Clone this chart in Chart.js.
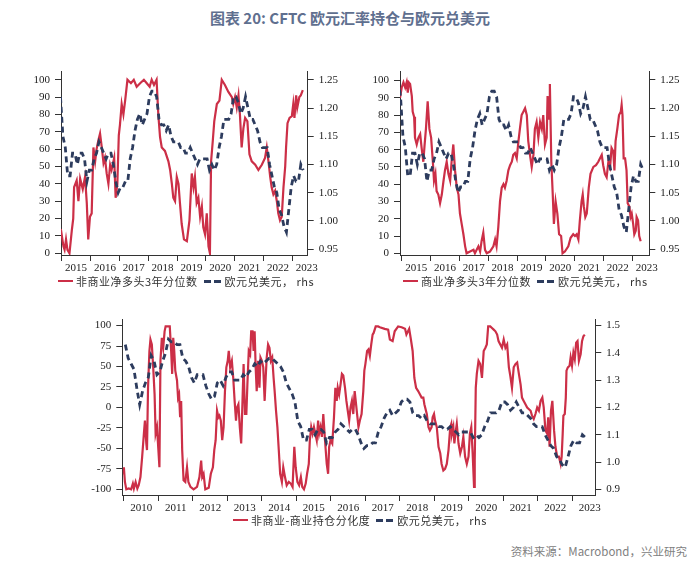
<!DOCTYPE html>
<html>
<head>
<meta charset="utf-8">
<script src="https://cdn.jsdelivr.net/npm/chart.js@4/dist/chart.umd.min.js"></script>
<style>
body{margin:0;background:#fff;width:700px;height:568px;position:relative;overflow:hidden;font-family:"Noto Sans CJK SC",sans-serif;}
.title{position:absolute;left:0;width:700px;top:7px;text-align:center;font-size:15px;font-weight:700;color:#5f6f8f;line-height:22px;}
canvas{position:absolute;}
.legend{position:absolute;display:flex;align-items:center;font-size:11px;letter-spacing:0.5px;color:#333;white-space:nowrap;line-height:14px;}
.legend .red{width:15px;height:2.5px;background:#cc2f47;margin-right:3px;}
.legend .dash{width:17px;height:3px;margin:0 4px 0 6px;background:repeating-linear-gradient(90deg,#2d3c5e 0 7px,transparent 7px 10px);}
.src{position:absolute;right:13px;top:543px;font-size:11.5px;color:#808080;line-height:16px;}
</style>
</head>
<body>
<div class="title">图表 20: CFTC 欧元汇率持仓与欧元兑美元</div>

<canvas id="chartNC" width="350" height="215" style="left:0;top:60px"></canvas>
<canvas id="chartC" width="350" height="215" style="left:340px;top:60px"></canvas>
<canvas id="chartDiff" width="600" height="207" style="left:60px;top:308px"></canvas>

<div class="legend" style="left:58px;top:274px"><span class="red"></span><span>非商业净多头3年分位数</span><span class="dash"></span><span>欧元兑美元， rhs</span></div>
<div class="legend" style="left:403px;top:274px"><span class="red"></span><span>商业净多头3年分位数</span><span class="dash"></span><span>欧元兑美元， rhs</span></div>
<div class="legend" style="left:233px;top:513px"><span class="red"></span><span>非商业-商业持仓分化度</span><span class="dash"></span><span>欧元兑美元， rhs</span></div>

<div class="src">资料来源：Macrobond，兴业研究</div>

<script>
// ============================================================
// Data
// ============================================================
// EUR/USD, monthly, from Jan 2010
var eurusdStartYear = 2010;
var eurusd = [
	1.43,1.38,1.36,1.34,1.27,1.21,1.26,1.29,1.31,1.39,1.37,1.32,
	1.33,1.37,1.40,1.45,1.44,1.44,1.43,1.43,1.38,1.37,1.35,1.31,
	1.29,1.32,1.32,1.32,1.28,1.25,1.23,1.24,1.29,1.30,1.28,1.31,
	1.33,1.33,1.30,1.30,1.30,1.32,1.31,1.33,1.34,1.36,1.35,1.37,
	1.36,1.37,1.38,1.38,1.37,1.36,1.35,1.33,1.29,1.27,1.25,1.22,
	1.15,1.13,1.08,1.08,1.12,1.12,1.10,1.12,1.12,1.11,1.07,1.09,
	1.09,1.11,1.12,1.14,1.13,1.12,1.11,1.12,1.12,1.10,1.07,1.05,
	1.06,1.06,1.07,1.07,1.11,1.13,1.16,1.18,1.19,1.17,1.18,1.19,
	1.22,1.23,1.23,1.22,1.18,1.17,1.17,1.16,1.17,1.15,1.14,1.14,
	1.14,1.13,1.13,1.12,1.12,1.13,1.12,1.11,1.10,1.11,1.11,1.11,
	1.11,1.09,1.10,1.09,1.10,1.13,1.15,1.18,1.18,1.18,1.19,1.22,
	1.22,1.21,1.19,1.20,1.22,1.20,1.18,1.18,1.17,1.16,1.14,1.13,
	1.13,1.13,1.10,1.08,1.06,1.05,1.02,1.01,0.99,0.98,1.02,1.06,
	1.08,1.07,1.07,1.10,1.09
];

// non-commercial net long, 3y percentile
var ncYears = [2014.97,2015.06,2015.10,2015.15,2015.20,2015.27,2015.35,2015.40,2015.43,2015.52,2015.58,2015.64,2015.73,2015.81,2015.87,2015.92,2015.98,
	2016.04,2016.10,2016.16,2016.21,2016.27,2016.33,2016.39,2016.45,2016.50,2016.56,2016.62,2016.68,2016.73,2016.82,2016.87,2016.93,2016.98,
	2017.02,2017.08,2017.14,2017.20,2017.28,2017.40,2017.50,2017.60,2017.72,2017.85,2017.95,2018.05,2018.12,2018.20,2018.29,2018.35,2018.41,2018.47,2018.58,2018.70,2018.76,2018.82,2018.87,2018.93,2018.99,
	2019.05,2019.10,2019.16,2019.24,2019.34,2019.43,2019.51,2019.57,2019.62,2019.68,2019.74,2019.80,2019.86,2019.91,2019.97,
	2020.03,2020.09,2020.14,2020.18,2020.24,2020.29,2020.38,2020.47,2020.55,2020.66,2020.78,2020.90,2020.95,
	2021.01,2021.07,2021.13,2021.18,2021.24,2021.30,2021.36,2021.44,2021.51,2021.59,2021.71,2021.82,2021.94,
	2022.05,2022.11,2022.17,2022.23,2022.28,2022.34,2022.40,2022.46,2022.51,2022.57,2022.63,2022.69,2022.75,2022.78,2022.83,2022.90,2022.98,
	2023.03,2023.07,2023.13,2023.17,2023.24,2023.29,2023.36];
var ncPct = [14,4,2,8,2,0,13,20,38,42,30,43,37,44,29,8,21,
	23,61,53,60,65,69,61,52,55,46,40,51,48,55,32,40,68,
	74,86,80,88,100,98,100,96,98,100,98,96,100,97,100,80,67,61,59,53,48,40,32,30,44,
	40,29,17,8,7,19,46,38,44,29,32,21,27,15,11,
	23,4,0,53,65,76,86,88,100,97,93,90,86,
	90,84,91,80,61,72,78,76,57,53,51,48,51,
	55,61,53,44,38,34,36,30,23,19,21,38,50,61,75,78,79,
	86,78,91,84,90,91,94];

// commercial net long, 3y percentile
var cYears = [2014.94,2015.00,2015.06,2015.12,2015.17,2015.21,2015.24,2015.29,2015.35,2015.38,2015.43,2015.46,2015.52,2015.58,2015.64,2015.69,2015.75,2015.79,2015.84,2015.90,2015.96,
	2016.02,2016.08,2016.12,2016.17,2016.21,2016.27,2016.33,2016.39,2016.45,2016.50,2016.56,2016.62,2016.68,2016.73,2016.79,2016.85,2016.91,2016.97,
	2017.02,2017.08,2017.14,2017.20,2017.25,2017.37,2017.49,2017.54,2017.66,2017.72,2017.77,2017.83,2017.89,2017.95,
	2018.06,2018.18,2018.24,2018.29,2018.35,2018.41,2018.47,2018.53,2018.58,2018.64,2018.70,2018.76,2018.82,2018.87,2018.93,2018.99,
	2019.05,2019.10,2019.16,2019.22,2019.28,2019.34,2019.39,2019.45,2019.51,2019.57,2019.62,2019.68,2019.74,2019.80,2019.86,2019.91,2019.97,
	2020.03,2020.06,2020.11,2020.14,2020.19,2020.24,2020.28,2020.34,2020.40,2020.46,2020.53,2020.58,2020.66,2020.78,2020.86,2020.95,
	2021.01,2021.07,2021.13,2021.18,2021.24,2021.28,2021.32,2021.37,2021.42,2021.49,2021.55,2021.65,2021.74,2021.82,2021.88,2021.94,2021.99,
	2022.05,2022.11,2022.17,2022.23,2022.28,2022.34,2022.38,2022.42,2022.48,2022.54,2022.60,2022.63,2022.66,2022.70,2022.75,2022.80,2022.84,2022.90,2022.94,2022.98,
	2023.03,2023.07,2023.12,2023.15,2023.20,2023.24,2023.29];
var cPct = [90,96,99,96,99,93,99,98,91,82,79,67,63,67,69,61,53,62,72,88,72,
	67,53,42,46,36,34,29,34,42,48,53,46,42,53,63,48,38,34,
	23,17,11,4,0,1,2,0,4,1,7,12,2,0,
	1,4,8,4,15,30,38,40,38,42,48,51,53,57,58,55,
	65,72,80,82,84,80,65,57,50,57,72,76,67,76,72,80,63,
	67,91,78,98,53,34,17,30,23,11,10,0,1,4,9,11,
	10,11,8,19,30,34,27,21,23,38,46,50,51,53,55,57,51,
	46,44,53,50,61,59,48,65,72,80,82,86,80,55,55,48,29,27,21,23,
	17,11,13,21,19,10,7];

// non-commercial minus commercial positioning divergence
var diffYears = [2009.98,2010.00,2010.03,2010.07,2010.14,2010.21,2010.26,2010.29,2010.34,2010.39,2010.43,2010.48,2010.53,2010.58,2010.61,2010.65,2010.67,2010.70,2010.74,2010.77,2010.81,2010.85,2010.89,2010.92,2010.96,
	2011.00,2011.03,2011.06,2011.10,2011.14,2011.18,2011.21,2011.27,2011.33,2011.37,2011.40,2011.43,2011.46,2011.49,2011.54,2011.57,2011.60,2011.63,2011.66,2011.69,2011.73,2011.78,2011.83,2011.87,2011.93,
	2012.02,2012.12,2012.19,2012.24,2012.27,2012.31,2012.36,2012.46,2012.52,2012.58,2012.62,2012.66,2012.70,2012.74,2012.77,2012.81,2012.85,2012.89,2012.93,2012.97,
	2013.01,2013.04,2013.08,2013.13,2013.17,2013.21,2013.25,2013.28,2013.32,2013.36,2013.40,2013.43,2013.47,2013.51,2013.55,2013.58,2013.62,2013.66,2013.69,2013.73,2013.76,2013.79,2013.82,2013.85,2013.89,2013.93,2013.96,
	2014.00,2014.04,2014.08,2014.11,2014.14,2014.18,2014.22,2014.26,2014.30,2014.34,2014.37,2014.41,2014.45,2014.49,2014.53,2014.58,2014.62,2014.67,2014.72,2014.78,2014.84,2014.89,2014.94,2014.98,
	2015.03,2015.08,2015.13,2015.17,2015.22,2015.27,2015.31,2015.36,2015.39,2015.43,2015.47,2015.51,2015.55,2015.59,2015.63,2015.66,2015.70,2015.74,2015.78,2015.83,2015.88,2015.92,2015.95,2015.99,
	2016.04,2016.09,2016.13,2016.17,2016.20,2016.24,2016.28,2016.32,2016.36,2016.41,2016.45,2016.49,2016.53,2016.57,2016.61,2016.65,2016.69,2016.72,2016.76,2016.80,2016.84,2016.89,2016.94,2016.97,
	2017.00,2017.05,2017.09,2017.13,2017.17,2017.21,2017.24,2017.30,2017.37,2017.42,2017.56,2017.66,2017.71,2017.79,2017.85,2017.95,
	2018.05,2018.15,2018.19,2018.27,2018.32,2018.37,2018.42,2018.47,2018.53,2018.58,2018.63,2018.68,2018.71,2018.78,2018.83,2018.87,2018.92,2018.95,2018.99,
	2019.02,2019.07,2019.12,2019.17,2019.21,2019.26,2019.31,2019.36,2019.41,2019.46,2019.49,2019.51,2019.55,2019.58,2019.61,2019.65,2019.70,2019.75,2019.80,2019.84,2019.89,2019.94,2019.99,
	2020.03,2020.07,2020.11,2020.15,2020.17,2020.20,2020.23,2020.28,2020.33,2020.38,2020.43,2020.48,2020.52,2020.56,2020.62,2020.67,2020.72,2020.77,2020.82,2020.86,2020.91,2020.96,
	2021.01,2021.06,2021.11,2021.16,2021.20,2021.25,2021.30,2021.35,2021.40,2021.45,2021.50,2021.54,2021.59,2021.64,2021.69,2021.79,2021.83,2021.88,2021.93,2021.98,
	2022.03,2022.08,2022.13,2022.17,2022.22,2022.27,2022.30,2022.34,2022.38,2022.42,2022.47,2022.51,2022.56,2022.61,2022.66,2022.69,2022.72,2022.74,2022.78,2022.81,2022.83,2022.87,2022.92,2022.95,2022.99,
	2023.03,2023.07,2023.11,2023.15,2023.19,2023.24,2023.28,2023.32,2023.36];
var diffVal = [-81,-73,-91,-100,-99,-100,-93,-99,-91,-99,-95,-85,-60,-32,-16,-44,-52,24,69,83,77,49,16,-32,-24,
	-52,-73,57,85,73,93,99,99,99,69,41,85,69,45,33,12,16,-12,8,-52,-89,-91,-73,-91,-97,
	-100,-97,-85,-65,-85,-81,-100,-98,-81,-73,-52,-40,-4,-12,-10,-16,-40,-24,20,49,
	57,69,49,57,36,8,-16,0,4,-24,-44,-4,53,-8,-8,28,69,65,93,93,69,93,49,20,57,24,61,
	57,49,8,36,61,77,73,57,61,36,20,-4,-24,-52,-81,-91,-73,-85,-95,-91,-93,-97,-48,-73,
	-91,-95,-85,-97,-100,-93,-81,-69,-40,-24,-32,-24,-32,-40,-16,-32,-24,-36,-8,-40,-69,-81,-48,-40,
	-44,-12,24,8,24,16,28,41,39,24,8,-4,-16,0,8,-8,20,8,-8,-24,-16,-8,20,45,
	53,69,71,63,77,89,91,99,99,98,96,95,83,81,93,99,
	98,96,89,96,83,69,36,24,20,16,12,12,4,-8,-24,-28,-24,-12,-8,
	-16,-24,-48,-56,-69,-77,-75,-69,-52,-24,-20,-32,-24,-44,-32,-20,-44,-56,-48,-36,-60,-69,-60,
	-32,-24,-56,-97,-65,24,41,57,53,36,69,73,77,99,99,97,95,93,89,81,77,73,
	83,73,77,49,39,24,49,53,55,41,28,12,8,4,0,-4,-10,-14,-8,0,
	-4,8,12,0,-28,-32,-12,-48,-4,8,-28,-48,-60,-60,-69,-60,-32,-10,-8,12,45,49,51,61,51,
	67,59,79,81,57,65,81,87,89];

// axis ticks
var topYears = [2015,2016,2017,2018,2019,2020,2021,2022,2023];
var bottomYears = [2010,2011,2012,2013,2014,2015,2016,2017,2018,2019,2020,2021,2022,2023];
var pctTicks = [0,10,20,30,40,50,60,70,80,90,100];
var topFxTicks = [0.95,1,1.05,1.1,1.15,1.2,1.25];
var diffTicks = [-100,-75,-50,-25,0,25,50,75,100];
var bottomFxTicks = [0.9,1,1.1,1.2,1.3,1.4,1.5];

// ============================================================
// Helpers
// ============================================================
var RED = '#cc2f47';
var NAVY = '#2d3c5e';
var AXIS = '#333';

function toPoints(xs, ys) {
	var pts = [];
	for (var i = 0; i < ys.length; i++) {
		pts.push({ x: xs[i], y: ys[i] });
	}
	return pts;
}

function monthX(n) {
	var xs = [];
	for (var i = 0; i < n; i++) {
		xs.push(eurusdStartYear + (i + 0.5) / 12);
	}
	return xs;
}

function fixedTicks(values) {
	return function (scale) {
		scale.ticks = values.map(function (v) { return { value: v }; });
	};
}

function buildChart(id, o) {
	var tickFont = { family: 'Liberation Serif', size: 11 };
	return new Chart(document.getElementById(id), {
		type: 'line',
		data: {
			datasets: [{
				// EUR/USD on top
				data: toPoints(monthX(eurusd.length), eurusd),
				yAxisID: 'y1',
				borderColor: NAVY,
				borderWidth: 2.8,
				borderDash: [6, 4],
				pointRadius: 0,
				tension: 0
			}, {
				data: toPoints(o.redX, o.redY),
				yAxisID: 'y',
				borderColor: RED,
				borderWidth: 2.2,
				pointRadius: 0,
				tension: 0
			}]
		},
		options: {
			responsive: false,
			animation: false,
			devicePixelRatio: 1,
			layout: { padding: { top: o.padTop, left: 0, right: 0, bottom: 0 } },
			plugins: { legend: { display: false }, tooltip: { enabled: false } },
			scales: {
				x: {
					type: 'linear', min: o.xMin, max: o.xMax,
					afterBuildTicks: fixedTicks(o.xTicks),
					afterFit: function (s) { s.height = 20; },
					ticks: {
						callback: function (v) { return String(v); },
						labelOffset: o.labelOffset, padding: 1, font: tickFont, color: '#222',
						maxRotation: 0, autoSkip: false
					},
					grid: { drawOnChartArea: false, tickLength: 6, color: AXIS },
					border: { color: AXIS }
				},
				y: {
					position: 'left', min: o.yMin, max: o.yMax,
					afterBuildTicks: fixedTicks(o.yTicks),
					afterFit: function (s) { s.width = o.leftW; },
					ticks: { padding: 5, font: tickFont, color: '#222', autoSkip: false },
					grid: { drawOnChartArea: false, tickLength: 6, color: AXIS },
					border: { color: AXIS }
				},
				y1: {
					position: 'right', min: o.y1Min, max: o.y1Max,
					afterBuildTicks: fixedTicks(o.y1Ticks),
					afterFit: function (s) { s.width = o.rightW; },
					ticks: {
						callback: function (v) { return v.toFixed(o.y1Digits); },
						padding: 5, font: tickFont, color: '#222', autoSkip: false
					},
					grid: { drawOnChartArea: false, tickLength: 6, color: AXIS },
					border: { color: AXIS }
				}
			}
		}
	});
}

// ============================================================
// Charts
// ============================================================
buildChart('chartNC', {
	redX: ncYears, redY: ncPct,
	xMin: 2014.976, xMax: 2023.53, xTicks: topYears, labelOffset: 14.4,
	yMin: -1, yMax: 104.7, yTicks: pctTicks,
	y1Min: 0.9395, y1Max: 1.2646, y1Ticks: topFxTicks, y1Digits: 2,
	leftW: 61, rightW: 42.3, padTop: 10
});

buildChart('chartC', {
	redX: cYears, redY: cPct,
	xMin: 2014.94, xMax: 2023.59, xTicks: topYears, labelOffset: 14.4,
	yMin: -1, yMax: 105.2, yTicks: pctTicks,
	y1Min: 0.9395, y1Max: 1.2646, y1Ticks: topFxTicks, y1Digits: 2,
	leftW: 60, rightW: 40.7, padTop: 9
});

buildChart('chartDiff', {
	redX: diffYears, redY: diffVal,
	xMin: 2009.954, xMax: 2023.665, xTicks: bottomYears, labelOffset: 17.3,
	yMin: -106.9, yMax: 107.3, yTicks: diffTicks,
	y1Min: 0.8793, y1Max: 1.5218, y1Ticks: bottomFxTicks, y1Digits: 1,
	leftW: 62.3, rightW: 64.7, padTop: 10.3
});
</script>
</body>
</html>
